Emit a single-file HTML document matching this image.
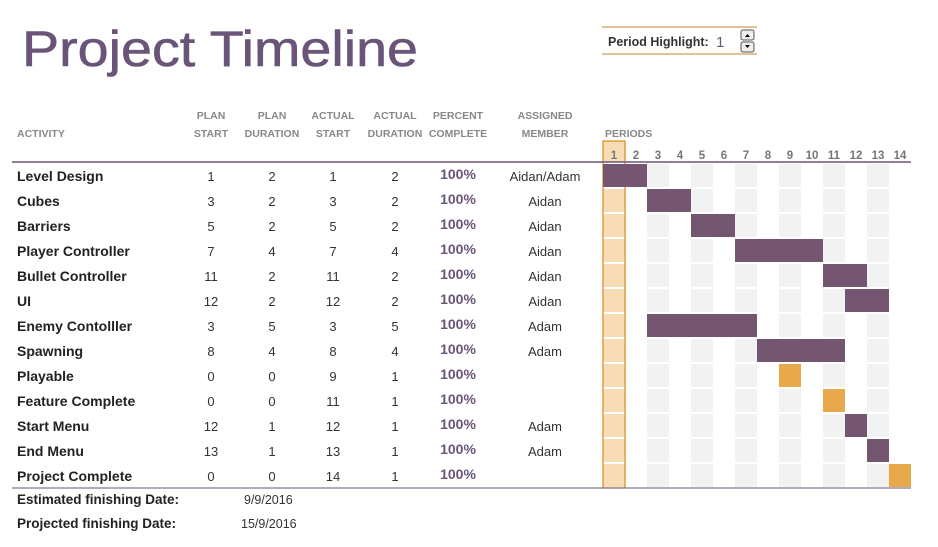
<!DOCTYPE html>
<html><head><meta charset="utf-8"><style>
body{margin:0;background:#fff;width:938px;height:542px;overflow:hidden}
svg text{font-family:"Liberation Sans",sans-serif}
</style></head><body>
<svg id="c" width="938" height="542" xmlns="http://www.w3.org/2000/svg">
<text x="22" y="66" font-size="50" textLength="396" lengthAdjust="spacingAndGlyphs" fill="#6a5478" stroke="#6a5478" stroke-width="0.6">Project Timeline</text>
<g>
<line x1="602" y1="27" x2="757" y2="27" stroke="#c8862a"/>
<line x1="602" y1="54" x2="757" y2="54" stroke="#c8862a"/>
<text x="608" y="46" font-size="12.5" fill="#333" font-weight="bold">Period Highlight:</text>
<text x="716" y="47" font-size="15" fill="#6a5478">1</text>
<rect x="741" y="30" width="13" height="10" rx="2" fill="#eee" stroke="#555"/>
<rect x="741" y="42" width="13" height="10" rx="2" fill="#eee" stroke="#555"/>
<path d="M745 37l2.5-3 2.5 3z M745 45l2.5 3 2.5-3z" fill="#000"/>
</g>
<g font-size="10.5" font-weight="bold" fill="#888" text-anchor="middle">
<text x="17" y="137" text-anchor="start">ACTIVITY</text>
<text x="211" y="119">PLAN</text><text x="211" y="137">START</text>
<text x="272" y="119">PLAN</text><text x="272" y="137">DURATION</text>
<text x="333" y="119">ACTUAL</text><text x="333" y="137">START</text>
<text x="395" y="119">ACTUAL</text><text x="395" y="137">DURATION</text>
<text x="458" y="119">PERCENT</text><text x="458" y="137">COMPLETE</text>
<text x="545" y="119">ASSIGNED</text><text x="545" y="137">MEMBER</text>
<text x="605" y="137" text-anchor="start">PERIODS</text>
</g>
<g id="grid"></g>
<g id="rows"></g>
<line x1="12" y1="162" x2="911" y2="162" stroke="#6a5478" stroke-width="1.5"/>
<line x1="12" y1="488" x2="911" y2="488" stroke="#6a5478" stroke-width="1"/>
<g font-size="13.5" font-weight="bold" fill="#222">
<text x="17" y="504">Estimated finishing Date:</text>
<text x="17" y="528">Projected finishing Date:</text>
<text x="244" y="504" font-weight="normal" font-size="12.5" fill="#333">9/9/2016</text>
<text x="241" y="528" font-weight="normal" font-size="12.5" fill="#333">15/9/2016</text>
</g>
</svg>
<script>
const activities=["Level Design","Cubes","Barriers","Player Controller","Bullet Controller","UI","Enemy Contolller","Spawning","Playable","Feature Complete","Start Menu","End Menu","Project Complete"];
const planStart=[1,3,5,7,11,12,3,8,0,0,12,13,0];
const planDur=[2,2,2,4,2,2,5,4,0,0,1,1,0];
const actualStart=[1,3,5,7,11,12,3,8,9,11,12,13,14];
const actualDur=[2,2,2,4,2,2,5,4,1,1,1,1,1];
const percent=["100%","100%","100%","100%","100%","100%","100%","100%","100%","100%","100%","100%","100%"];
const members=["Aidan/Adam","Aidan","Aidan","Aidan","Aidan","Aidan","Adam","Adam","","","Adam","Adam",""];
const periods=[1,2,3,4,5,6,7,8,9,10,11,12,13,14];
const highlight=1;
const NS="http://www.w3.org/2000/svg";
const X0=603,CW=22,Y0=164,RH=25;
const px=p=>X0+(p-1)*CW, ry=i=>Y0+i*RH;
function mk(tag,attrs,parent,txt){const e=document.createElementNS(NS,tag);for(const k in attrs)e.setAttribute(k,attrs[k]);if(txt!==undefined)e.textContent=txt;parent.appendChild(e);return e;}
const grid=document.getElementById('grid'),rows=document.getElementById('rows');
const H=activities.length*RH;
mk('rect',{x:px(highlight),y:141,width:CW,height:21,fill:'#f8dcb6'},grid);
periods.forEach(p=>{
  const fill=p===highlight?"#f8dcb6":(p%2===1?"#f2f2f2":"#fff");
  const r=mk('rect',{x:px(p),y:Y0,width:CW,height:H-1,fill:fill},grid);
  
  
  const t=mk('text',{x:px(p)+CW/2,y:159,'font-size':11.5,'font-weight':'bold',fill:'#777','text-anchor':'middle'},grid,String(p));
  
  
});
activities.forEach((a,i)=>{mk('line',{x1:X0,x2:X0+14*CW,y1:ry(i)+RH-1,y2:ry(i)+RH-1,stroke:'#fff','stroke-width':2},grid);});
const hl=mk('rect',{x:px(highlight),y:141,width:CW,height:347,fill:'none',stroke:'#d88a1a','stroke-width':1.2},grid);


activities.forEach((a,i)=>{
  const cy=ry(i)+12;
  const g=mk('g',{},rows);
  
  
  const t=mk('text',{x:17,y:cy+5,'font-size':14,'font-weight':'bold',fill:'#222'},g,a);
  
  
  [[211,planStart[i]],[272,planDur[i]],[333,actualStart[i]],[395,actualDur[i]]].forEach(([x,v])=>{
    mk('text',{x:x,y:cy+5,'font-size':13,fill:'#333','text-anchor':'middle'},g,String(v));
  });
  mk('text',{x:458,y:cy+3,'font-size':14,'font-weight':'bold',fill:'#6a5478','text-anchor':'middle'},g,percent[i]);
  mk('text',{x:545,y:cy+5,'font-size':13,fill:'#333','text-anchor':'middle'},g,members[i]);
  const milestone=planDur[i]===0;
  const b=mk('rect',{x:px(actualStart[i]),y:ry(i),width:actualDur[i]*CW,height:RH-2,fill:milestone?'#e8a94c':'#745670'},rows);
  
  
});
</script>
</body></html>
